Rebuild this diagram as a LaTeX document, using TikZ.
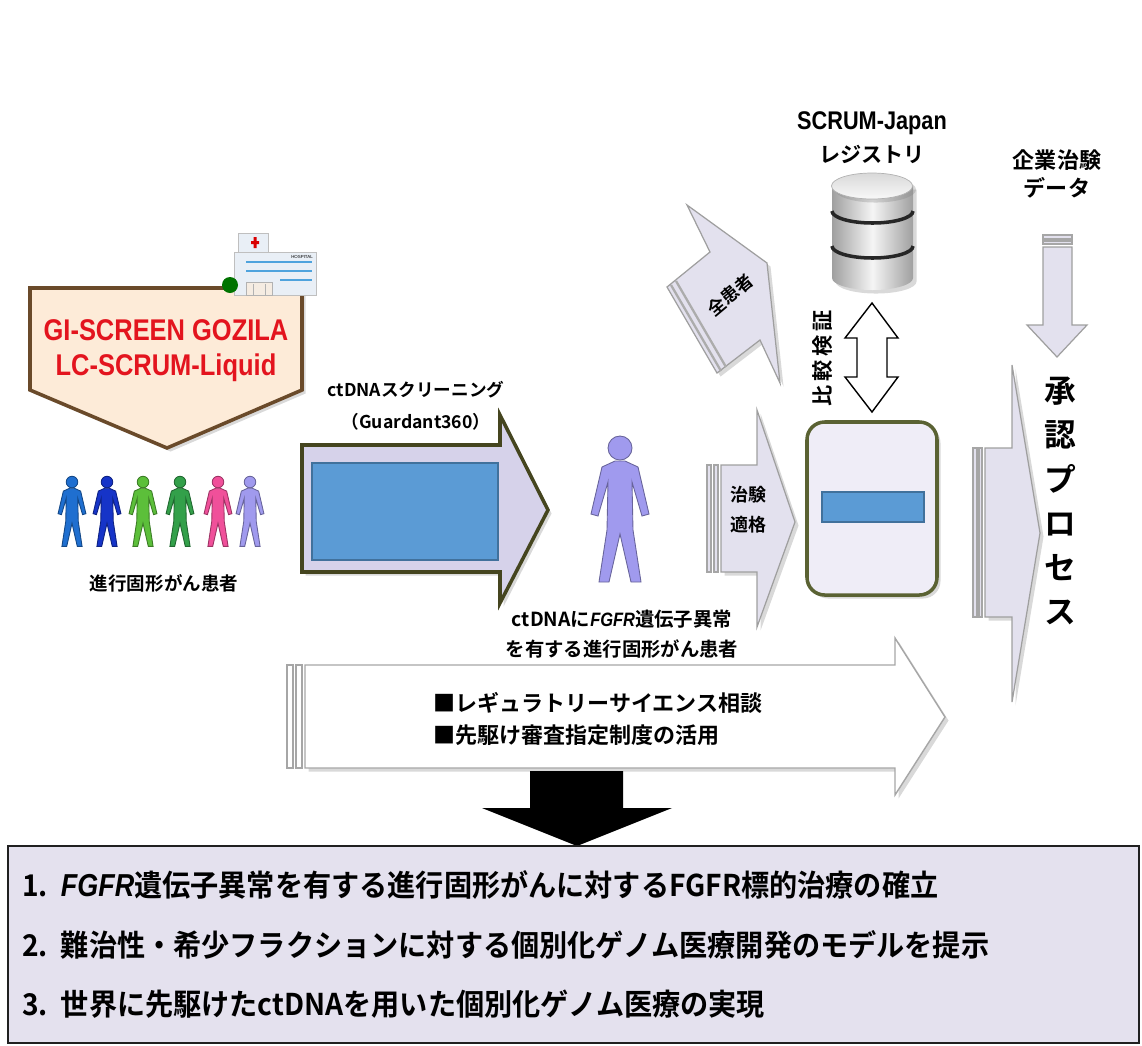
\documentclass[tikz,border=0pt]{standalone}
\usepackage{fontspec}
\setmainfont{Liberation Sans}
\newfontfamily\jp{Noto Sans CJK JP Bold}
\newfontfamily\jpc{Noto Sans CJK JP Bold}[FakeStretch=0.94]
\newfontfamily\narrow{Liberation Sans}[FakeStretch=0.85]
\usetikzlibrary{positioning,calc,shadows}

\definecolor{lav}{HTML}{D6D2EA}
\definecolor{paleb}{HTML}{E3E1EE}
\definecolor{boxfill}{HTML}{EFEDF7}
\definecolor{olivedk}{HTML}{45451F}
\definecolor{olivegr}{HTML}{5A6233}
\definecolor{scrblue}{HTML}{5B9BD5}
\definecolor{scredge}{HTML}{41719C}
\definecolor{peach}{HTML}{FDEBD8}
\definecolor{brownedge}{HTML}{6A4A2A}
\definecolor{gozred}{HTML}{E3141E}
\definecolor{goalfill}{HTML}{E4E1EE}
\definecolor{pblue}{HTML}{1F6FD0}
\definecolor{pnavy}{HTML}{1634C8}
\definecolor{pgreen}{HTML}{5CBF3A}
\definecolor{pdkgreen}{HTML}{33A04A}
\definecolor{ppink}{HTML}{F0509A}
\definecolor{plilac}{HTML}{A09AEE}
\definecolor{hospwall}{HTML}{E9EFF6}
\definecolor{hospline}{HTML}{4FA3DD}

\newcommand{\fsz}[2]{\fontsize{#1}{#2}\selectfont}

\begin{document}
\begin{tikzpicture}[x=0.5675pt, y=-0.5675pt,
    lbl/.style={inner sep=0pt, align=center, font=\jp\fsz{10.5}{14}},
    pale/.style={fill=paleb, draw=gray!75, line width=0.7pt},
    stripe/.style={fill=paleb, draw=gray!70, line width=0.6pt},
    shade/.style={drop shadow={shadow xshift=2pt, shadow yshift=-2pt,
                               opacity=0.3, fill=gray}},
    pics/patient/.style={code={
      \filldraw[fill=#1, draw=#1!65!black, line width=0.5pt]
        (0,0) circle[radius=12];
      \filldraw[fill=#1, draw=#1!65!black, line width=0.5pt]
        (-5,13) -- (-18,19) -- (-29,66) -- (-22,68) -- (-12,34) -- (-13,82)
        -- (-21,134) -- (-11,134) -- (0,86) -- (11,134) -- (21,134)
        -- (13,82) -- (12,34) -- (22,68) -- (29,66) -- (18,19) -- (5,13) -- cycle;
    }}]
\useasboundingbox (0,0) rectangle (1142,1045);

% study banner and hospital
\filldraw[fill=peach, draw=brownedge, line width=2pt, shade]
  (30,288) -- (302,288) -- (302,390) -- (167,448) -- (30,390) -- cycle;
\node[inner sep=0, text=gozred, font=\narrow\bfseries\fsz{17}{20}] (gozila) at (166,330) {GI-SCREEN GOZILA};
\node[inner sep=0, text=gozred, font=\narrow\bfseries\fsz{17}{20}] (liquid) at (166,368) {LC-SCRUM-Liquid};

\filldraw[fill=hospwall, draw=gray!50] (238,233) rectangle (268,253);
\filldraw[fill=hospwall, draw=gray!50] (234,252) rectangle (316,295);
\fill[red!85!black] (251,241) rectangle (259,244) (253.5,237) rectangle (256.5,248);
\draw[hospline, line width=1.6pt] (246,262) -- (312,262) (246,271) -- (312,271) (280,280) -- (312,280);
\node[inner sep=0, font=\fsz{2.5}{3}] (hosp) at (302,257) {HOSPITAL};
\filldraw[fill=white!85!brown, draw=gray!60] (246,282) rectangle (272,295);
\draw[gray!60] (253,284) -- (253,295) (265,284) -- (265,295);
\fill[green!45!black] (230,285) circle[radius=8];

% patients with solid tumours
\foreach \x/\c in {72/pblue, 107/pnavy, 143/pgreen, 180/pdkgreen, 218/ppink, 250/plilac}
  \pic[scale=0.48] at (\x,482) {patient=\c};
\node[lbl] (cohort) at (164,583) {進行固形がん患者};

% ctDNA screening
\filldraw[fill=lav, draw=olivedk, line width=2pt, shade]
  (302,445) -- (500,445) -- (500,415) -- (548,510) -- (500,603) -- (500,572) -- (302,572) -- cycle;
\filldraw[fill=scrblue, draw=scredge, line width=1pt] (312,463) rectangle (498,560);
\node[lbl, font=\jp\fsz{10}{14}] (screen) at (416,390) {ctDNAスクリーニング};
\node[lbl, font=\jp\fsz{10}{14}] (guardant) at (416,422) {（Guardant360）};

\pic at (620,448) {patient=plilac};
\node[lbl, font=\jp\fsz{11}{17}] (fgfrpt) at (622,634)
  {ctDNAに{\narrow\bfseries\itshape FGFR}遺伝子異常\\を有する進行固形がん患者};

% all patients to the registry
\filldraw[pale, shade] (667,287) -- (710,252) -- (687,205) -- (767,263) -- (780,383) -- (760,340) -- (717,373) -- cycle;
\draw[gray!65, line width=1.3pt] (671,285) -- (721,371) (676,281) -- (726,367);
\node[lbl, rotate=40, font=\jp\fsz{10}{12}] (allpt) at (730,295) {全患者};

% eligible for the trial
\filldraw[stripe] (707,465) rectangle (711,572) (714,465) rectangle (718,572);
\filldraw[pale, shade] (721,465) -- (757,465) -- (757,410) -- (795,522) -- (757,627) -- (757,572) -- (721,572) -- cycle;
\node[lbl, font=\jp\fsz{10.2}{17}] (eligible) at (748,510) {治験\\適格};

% trial box
\filldraw[fill=boxfill, draw=olivegr, line width=2pt, rounded corners=10pt, shade]
  (807,422) rectangle (937,595);
\filldraw[fill=scrblue, draw=scredge, line width=0.8pt] (822,492) rectangle (924,522);

% registry
\node[inner sep=0, font=\narrow\bfseries\fsz{14.5}{17}] (scrum) at (872,123) {SCRUM-Japan};
\node[lbl, font=\jp\fsz{12}{14}] (registry) at (872,154) {レジストリ};
\shade[left color=gray!75, right color=gray!75, middle color=gray!8]
  (832,186) -- (832,278) arc[start angle=180, end angle=0, x radius=40.5, y radius=12] -- (913,186) -- cycle;
\shade[top color=gray!30, bottom color=gray!5, draw=gray!60] (872,186) ellipse[x radius=40.5, y radius=13];
\draw[gray!30!black, line width=2pt] (832,211) arc[start angle=180, end angle=0, x radius=40.5, y radius=12];
\draw[gray!30!black, line width=2pt] (832,246) arc[start angle=180, end angle=0, x radius=40.5, y radius=12];

\filldraw[fill=white, draw=black, line width=0.8pt]
  (872,303) -- (898,338) -- (887,338) -- (887,377) -- (898,377) -- (872,412)
  -- (845,377) -- (857,377) -- (857,338) -- (845,338) -- cycle;
\node[lbl, rotate=90, font=\jp\fsz{12}{14}\addfontfeatures{LetterSpace=18}] (compare) at (823,358) {比較検証};

% company trial data
\node[lbl, font=\jp\fsz{12.5}{15.5}] (corpdata) at (1057,174) {企業治験\\データ};
\filldraw[stripe] (1043,235) rectangle (1072,239) (1043,241) rectangle (1072,244);
\filldraw[pale] (1043,247) -- (1072,247) -- (1072,325) -- (1087,325) -- (1057,357) -- (1027,325) -- (1043,325) -- cycle;

% approval process
\filldraw[stripe] (973,448) rectangle (977,617) (979,448) rectangle (982,617);
\filldraw[pale, shade] (985,448) -- (1012,448) -- (1012,365) -- (1040,533) -- (1012,702) -- (1012,617) -- (985,617) -- cycle;
\node[lbl, font=\jp\fsz{18}{25}] (approval) at (1060,501) {承\\認\\プ\\ロ\\セ\\ス};

% regulatory consultation
\filldraw[fill=white, draw=gray!70, line width=0.6pt] (287,665) rectangle (293,768) (296,665) rectangle (302,768);
\filldraw[fill=white, draw=gray!70, line width=0.8pt, shade]
  (305,665) -- (895,665) -- (895,638) -- (945,717) -- (895,795) -- (895,768) -- (305,768) -- cycle;
\node[lbl, anchor=west, align=left, font=\jp\fsz{12.5}{18}] (consult) at (433,719)
  {■レギュラトリーサイエンス相談\\■先駆け審査指定制度の活用};

% outcomes
\fill[black] (530,771) -- (623,771) -- (623,808) -- (672,808) -- (577,846) -- (482,808) -- (530,808) -- cycle;
\filldraw[fill=goalfill, draw=gray!25!black, line width=1.2pt] (8,846) rectangle (1139,1043);
\node[lbl, anchor=west, font=\jpc\fsz{17}{20}] (goal1) at (22,885)
  {1.\ \ {\narrow\bfseries\itshape\fsz{18}{20}FGFR}遺伝子異常を有する進行固形がんに対するFGFR標的治療の確立};
\node[lbl, anchor=west, font=\jpc\fsz{17}{20}] (goal2) at (22,945)
  {2.\ \ 難治性・希少フラクションに対する個別化ゲノム医療開発のモデルを提示};
\node[lbl, anchor=west, font=\jpc\fsz{17}{20}] (goal3) at (22,1004)
  {3.\ \ 世界に先駆けたctDNAを用いた個別化ゲノム医療の実現};
\end{tikzpicture}
\end{document}
